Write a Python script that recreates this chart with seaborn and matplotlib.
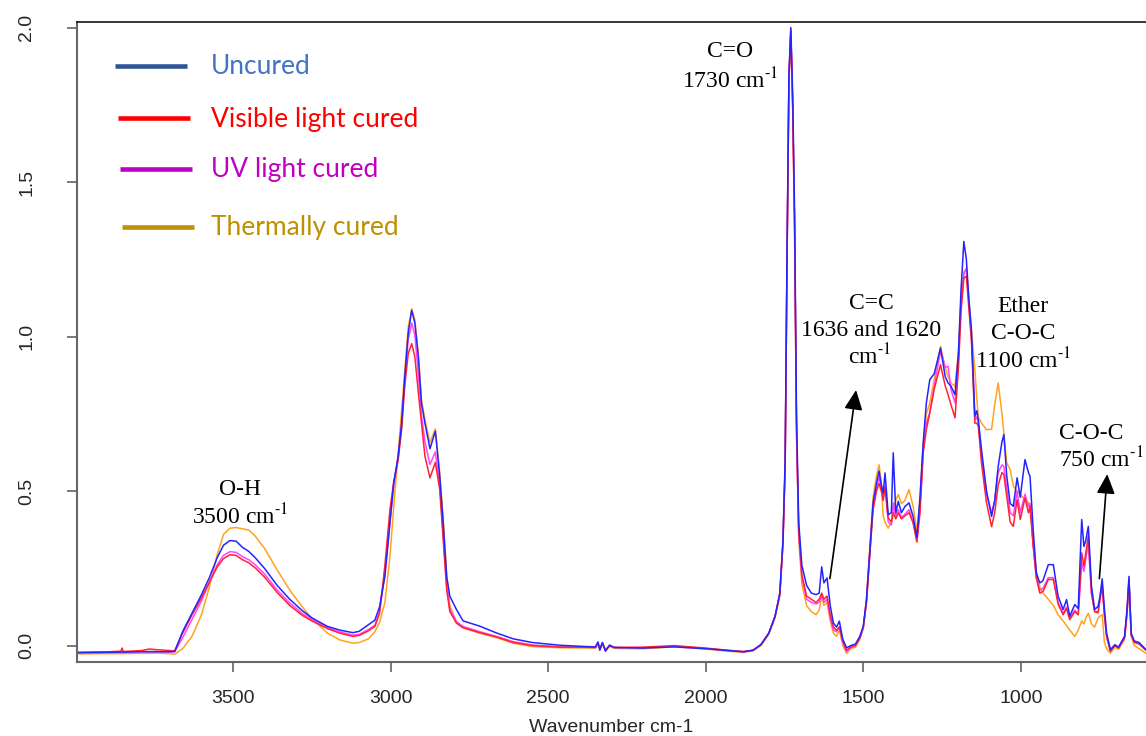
import matplotlib
matplotlib.use("Agg")
import matplotlib.pyplot as plt
from matplotlib.lines import Line2D
import seaborn as sns

# FTIR spectra (wavenumber in cm-1, absorbance)
wavenumber = [
    3995, 3900, 3856, 3852, 3848, 3790, 3765, 3745, 3700, 3685,
    3660, 3630, 3600, 3575, 3550, 3530, 3510, 3490, 3470, 3450,
    3430, 3400, 3360, 3320, 3280, 3250, 3200, 3160, 3120, 3100,
    3070, 3050, 3035, 3018, 3002, 2990, 2976, 2965, 2955, 2944,
    2933, 2923, 2912, 2902, 2891, 2875, 2858, 2844, 2833, 2822,
    2812, 2791, 2770, 2717, 2664, 2611, 2550, 2460, 2380, 2350,
    2342, 2336, 2328, 2318, 2305, 2290, 2200, 2100, 2000, 1930,
    1880, 1850, 1825, 1800, 1780, 1765, 1755, 1748, 1742, 1736,
    1730, 1724, 1718, 1712, 1705, 1695, 1680, 1665, 1650, 1640,
    1632, 1625, 1615, 1605, 1595, 1585, 1576, 1565, 1553, 1540,
    1525, 1511, 1500, 1490, 1479, 1469, 1458, 1450, 1443, 1437,
    1431, 1421, 1411, 1405, 1397, 1389, 1379, 1368, 1355, 1342,
    1330, 1320, 1310, 1300, 1289, 1275, 1255, 1240, 1231, 1222,
    1209, 1198, 1190, 1181, 1173, 1165, 1157, 1146, 1140, 1135,
    1125, 1109, 1093, 1083, 1072, 1060, 1054, 1045, 1034, 1024,
    1012, 1002, 987, 976, 971, 961, 951, 940, 930, 913,
    897, 882, 866, 855, 845, 829, 818, 807, 800, 794,
    786, 776, 766, 755, 749, 742, 735, 728, 716, 702,
    690, 671, 663, 657, 650, 640, 625, 603]

uncured = [
    -0.023, -0.022, -0.021, -0.021, -0.021, -0.020, -0.020, -0.020, -0.020, -0.019,
    0.045, 0.105, 0.165, 0.220, 0.285, 0.325, 0.340, 0.338, 0.318, 0.305,
    0.285, 0.250, 0.195, 0.150, 0.113, 0.090, 0.062, 0.050, 0.042, 0.046,
    0.068, 0.082, 0.125, 0.224, 0.397, 0.527, 0.613, 0.720, 0.871, 1.012,
    1.085, 1.044, 0.936, 0.785, 0.720, 0.637, 0.694, 0.548, 0.397, 0.224,
    0.160, 0.117, 0.080, 0.063, 0.041, 0.022, 0.010, 0.001, -0.003, -0.004,
    0.012, -0.015, 0.010, -0.018, 0.002, -0.006, -0.008, -0.004, -0.010, -0.016,
    -0.020, -0.015, 0.003, 0.040, 0.095, 0.170, 0.340, 0.600, 1.280, 1.850,
    2.000, 1.780, 1.400, 0.750, 0.400, 0.260, 0.195, 0.170, 0.165, 0.170,
    0.255, 0.203, 0.219, 0.130, 0.073, 0.060, 0.079, 0.020, -0.007, 0.000,
    0.005, 0.030, 0.063, 0.149, 0.311, 0.462, 0.527, 0.565, 0.520, 0.494,
    0.559, 0.424, 0.430, 0.624, 0.430, 0.467, 0.430, 0.450, 0.462, 0.418,
    0.350, 0.483, 0.656, 0.785, 0.861, 0.880, 0.963, 0.870, 0.850, 0.840,
    0.812, 0.950, 1.150, 1.308, 1.250, 1.120, 1.023, 0.742, 0.760, 0.730,
    0.634, 0.500, 0.418, 0.470, 0.580, 0.660, 0.683, 0.550, 0.460, 0.451,
    0.543, 0.480, 0.602, 0.560, 0.548, 0.375, 0.235, 0.203, 0.210, 0.262,
    0.262, 0.160, 0.117, 0.149, 0.095, 0.133, 0.120, 0.408, 0.321, 0.340,
    0.386, 0.192, 0.117, 0.127, 0.160, 0.216, 0.120, 0.040, -0.013, 0.003,
    -0.005, 0.030, 0.120, 0.224, 0.040, 0.015, 0.010, -0.013]

visible = [
    -0.022, -0.020, -0.018, -0.008, -0.019, -0.016, -0.011, -0.013, -0.016, -0.017,
    0.040, 0.100, 0.155, 0.205, 0.255, 0.282, 0.294, 0.292, 0.278, 0.268,
    0.252, 0.222, 0.172, 0.130, 0.098, 0.080, 0.055, 0.040, 0.030, 0.033,
    0.048, 0.062, 0.105, 0.260, 0.440, 0.530, 0.600, 0.699, 0.840, 0.945,
    0.977, 0.935, 0.820, 0.720, 0.613, 0.543, 0.593, 0.505, 0.343, 0.181,
    0.110, 0.073, 0.058, 0.042, 0.028, 0.010, 0.000, -0.005, -0.005, -0.006,
    0.008, -0.010, 0.008, -0.014, 0.000, -0.006, -0.005, 0.000, -0.008, -0.015,
    -0.019, -0.015, 0.003, 0.040, 0.095, 0.165, 0.330, 0.580, 1.250, 1.830,
    1.990, 1.740, 1.350, 0.710, 0.370, 0.230, 0.160, 0.150, 0.140, 0.150,
    0.170, 0.150, 0.160, 0.100, 0.060, 0.050, 0.060, 0.015, -0.015, -0.005,
    0.000, 0.025, 0.060, 0.140, 0.300, 0.440, 0.500, 0.525, 0.500, 0.470,
    0.510, 0.413, 0.400, 0.430, 0.410, 0.430, 0.410, 0.420, 0.430, 0.397,
    0.335, 0.430, 0.624, 0.699, 0.754, 0.830, 0.909, 0.840, 0.812, 0.780,
    0.737, 0.900, 1.080, 1.190, 1.195, 1.090, 0.990, 0.720, 0.720, 0.710,
    0.591, 0.462, 0.385, 0.430, 0.520, 0.560, 0.553, 0.483, 0.400, 0.386,
    0.472, 0.408, 0.478, 0.430, 0.450, 0.321, 0.220, 0.170, 0.175, 0.214,
    0.214, 0.135, 0.100, 0.120, 0.084, 0.110, 0.100, 0.300, 0.257, 0.300,
    0.354, 0.170, 0.110, 0.106, 0.150, 0.192, 0.100, 0.030, -0.018, 0.000,
    -0.008, 0.025, 0.110, 0.210, 0.035, 0.010, 0.005, -0.015]

uv = [
    -0.022, -0.021, -0.021, -0.021, -0.021, -0.019, -0.019, -0.019, -0.020, -0.020,
    0.025, 0.085, 0.145, 0.205, 0.262, 0.292, 0.304, 0.302, 0.288, 0.278,
    0.262, 0.232, 0.180, 0.138, 0.104, 0.085, 0.058, 0.044, 0.034, 0.036,
    0.052, 0.066, 0.108, 0.235, 0.400, 0.520, 0.610, 0.710, 0.855, 0.990,
    1.044, 1.005, 0.880, 0.745, 0.660, 0.586, 0.627, 0.520, 0.360, 0.195,
    0.120, 0.078, 0.062, 0.045, 0.030, 0.013, 0.002, -0.004, -0.005, -0.006,
    0.010, -0.012, 0.009, -0.015, 0.000, -0.006, -0.007, -0.002, -0.009, -0.016,
    -0.020, -0.015, 0.003, 0.040, 0.095, 0.165, 0.330, 0.580, 1.250, 1.830,
    1.990, 1.740, 1.350, 0.700, 0.360, 0.220, 0.150, 0.140, 0.135, 0.140,
    0.165, 0.140, 0.150, 0.090, 0.050, 0.045, 0.060, 0.010, -0.020, -0.005,
    0.000, 0.025, 0.060, 0.140, 0.300, 0.450, 0.510, 0.545, 0.510, 0.475,
    0.520, 0.400, 0.390, 0.462, 0.420, 0.440, 0.415, 0.425, 0.440, 0.400,
    0.340, 0.450, 0.630, 0.720, 0.754, 0.840, 0.952, 0.900, 0.904, 0.830,
    0.785, 0.930, 1.100, 1.200, 1.222, 1.110, 1.000, 0.730, 0.740, 0.720,
    0.610, 0.490, 0.430, 0.470, 0.560, 0.585, 0.580, 0.510, 0.430, 0.420,
    0.500, 0.430, 0.490, 0.450, 0.460, 0.330, 0.220, 0.180, 0.185, 0.220,
    0.220, 0.140, 0.105, 0.125, 0.090, 0.115, 0.100, 0.270, 0.240, 0.280,
    0.330, 0.170, 0.110, 0.110, 0.150, 0.200, 0.100, 0.030, -0.018, 0.000,
    -0.005, 0.028, 0.110, 0.215, 0.035, 0.012, 0.008, -0.015]

thermal = [
    -0.027, -0.026, -0.026, -0.026, -0.026, -0.025, -0.025, -0.024, -0.026, -0.028,
    -0.010, 0.030, 0.100, 0.190, 0.295, 0.360, 0.380, 0.382, 0.378, 0.374,
    0.355, 0.315, 0.245, 0.180, 0.125, 0.088, 0.040, 0.018, 0.008, 0.010,
    0.022, 0.045, 0.075, 0.140, 0.289, 0.450, 0.620, 0.760, 0.883, 1.030,
    1.090, 1.055, 0.945, 0.795, 0.730, 0.658, 0.701, 0.560, 0.410, 0.230,
    0.130, 0.073, 0.058, 0.040, 0.026, 0.008, -0.003, -0.007, -0.008, -0.008,
    0.006, -0.012, 0.004, -0.016, -0.003, -0.009, -0.010, -0.004, -0.011, -0.018,
    -0.022, -0.017, 0.000, 0.036, 0.090, 0.160, 0.330, 0.580, 1.250, 1.830,
    1.990, 1.740, 1.340, 0.690, 0.350, 0.200, 0.130, 0.110, 0.100, 0.115,
    0.160, 0.130, 0.140, 0.080, 0.040, 0.030, 0.050, 0.000, -0.025, -0.010,
    -0.005, 0.020, 0.055, 0.150, 0.320, 0.480, 0.550, 0.585, 0.530, 0.420,
    0.400, 0.380, 0.400, 0.440, 0.470, 0.489, 0.460, 0.470, 0.505, 0.450,
    0.370, 0.470, 0.650, 0.750, 0.785, 0.860, 0.968, 0.900, 0.871, 0.850,
    0.839, 0.950, 1.120, 1.210, 1.220, 1.120, 1.020, 0.893, 0.800, 0.740,
    0.720, 0.699, 0.700, 0.780, 0.850, 0.750, 0.688, 0.591, 0.570, 0.516,
    0.500, 0.490, 0.470, 0.462, 0.450, 0.330, 0.240, 0.190, 0.170, 0.150,
    0.130, 0.100, 0.080, 0.065, 0.050, 0.030, 0.050, 0.080, 0.070, 0.090,
    0.105, 0.070, 0.060, 0.090, 0.095, 0.100, 0.010, -0.010, -0.025, -0.005,
    -0.012, 0.020, 0.100, 0.210, 0.030, 0.000, -0.010, -0.025]

assert len(wavenumber) == len(uncured) == len(visible) == len(uv) == len(thermal)

legend_labels = ["Uncured", "Visible light cured", "UV light cured", "Thermally cured"]
legend_line_colors = ["#2F5597", "#FF0000", "#C000C0", "#BF9000"]
legend_text_colors = ["#4472C4", "#FF0000", "#C000C0", "#BF9000"]

x_ticks = [3500, 3000, 2500, 2000, 1500, 1000]
y_ticks = [0.0, 0.5, 1.0, 1.5, 2.0]
y_tick_labels = ["0.0", "0.5", "1.0", "1.5", "2.0"]

sns.set_style("ticks")
plt.rcParams["font.family"] = ["Liberation Sans", "DejaVu Sans"]
plt.rcParams["mathtext.fontset"] = "stix"

W, H = 1146, 736
fig = plt.figure(figsize=(W / 100, H / 100), dpi=100)
ax = fig.add_axes([77 / W, 1 - 662 / H, (W - 77) / W, 640 / H])

# drawn back to front: thermal, UV, visible, uncured on top
series = [(thermal, "#FFA31F"), (uv, "#FF44FF"), (visible, "#FF2233"), (uncured, "#2424FF")]
for vals, col in series:
    sns.lineplot(x=wavenumber, y=vals, color=col, linewidth=1.1,
                 sort=False, estimator=None, ax=ax)

ax.set_xlim(3995, 603)
ax.set_ylim(-0.053, 2.018)
ax.set_xticks(x_ticks)
ax.set_yticks(y_ticks)
ax.set_yticklabels(y_tick_labels)
ax.set_xlabel("Wavenumber cm-1", fontsize=14, labelpad=9)
ax.set_ylabel("")

for side in ["left", "bottom"]:
    ax.spines[side].set_color("#666666")
    ax.spines[side].set_linewidth(1.5)
ax.spines["top"].set_visible(True)
ax.spines["top"].set_color("black")
ax.spines["top"].set_linewidth(1.1)
ax.spines["right"].set_visible(False)

ax.tick_params(axis="x", direction="out", length=7, width=1.1, color="#555555",
               labelsize=14, pad=13)
ax.tick_params(axis="y", direction="out", length=7, width=1.1, color="#555555",
               labelsize=14, pad=23)
for lab in ax.get_yticklabels():
    lab.set_rotation(90)
    lab.set_va("center")

# peak annotations
serif = dict(family=["Liberation Serif", "DejaVu Serif"], fontsize=17, color="black")
inv = r"cm$^{\text{-}1}$"
ax.text(1923, 1.922, "C=O", ha="center", va="center", **serif)
ax.text(1923, 1.827, "1730 " + inv, ha="center", va="center", **serif)
ax.text(3478, 0.506, "O-H", ha="center", va="center", **serif)
ax.text(3478, 0.419, "3500 " + inv, ha="center", va="center", **serif)
ax.text(1474, 1.107, "C=C", ha="center", va="center", **serif)
ax.text(1474, 1.021, "1636 and 1620", ha="center", va="center", **serif)
ax.text(1479, 0.935, inv, ha="center", va="center", **serif)
ax.text(993, 1.096, "Ether", ha="center", va="center", **serif)
ax.text(993, 1.010, "C-O-C", ha="center", va="center", **serif)
ax.text(993, 0.924, "1100 " + inv, ha="center", va="center", **serif)
ax.text(878, 0.687, "C-O-C", ha="left", va="center", **serif)
ax.text(878, 0.601, "750 " + inv, ha="left", va="center", **serif)

arrow = dict(arrowstyle="-|>,head_length=0.6,head_width=0.28", color="black",
             lw=1.2, shrinkA=0, shrinkB=0, mutation_scale=20)
ax.annotate("", xy=(1523, 0.827), xytext=(1606, 0.217), arrowprops=arrow)
ax.annotate("", xy=(726, 0.555), xytext=(751, 0.217), arrowprops=arrow)

# hand-drawn style legend
line_x0 = [115, 118, 120, 122]
line_y = [66, 118, 169, 227]
for i, (lab, lc, tc) in enumerate(zip(legend_labels, legend_line_colors, legend_text_colors)):
    y = 1 - line_y[i] / H
    fig.add_artist(Line2D([line_x0[i] / W, (line_x0[i] + 72) / W], [y, y],
                          transform=fig.transFigure, color=lc, linewidth=3.3,
                          solid_capstyle="butt"))
    fig.text(211 / W, 1 - (line_y[i] + 8.5) / H, lab, color=tc, fontsize=19,
             family=["Lato", "DejaVu Sans"], ha="left", va="baseline")

fig.savefig("out.png", dpi=100)
